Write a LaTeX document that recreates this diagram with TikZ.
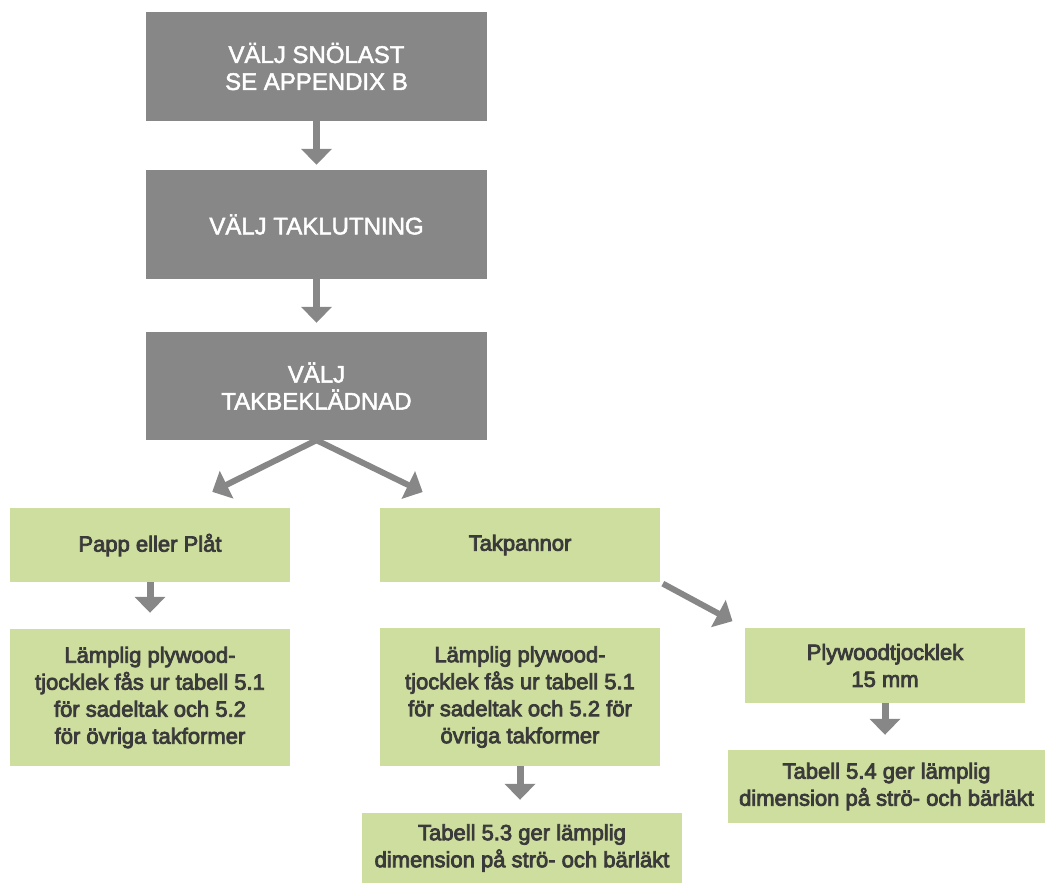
\documentclass[tikz,border=0pt]{standalone}
\usepackage{fontspec}
\setmainfont{Liberation Sans}
\newfontfamily\medfont[FakeBold=3.5]{Liberation Sans}
\newfontfamily\lightbold[FakeBold=2]{Liberation Sans}
\usepackage{tikz}
\usetikzlibrary{arrows.meta}
\definecolor{boxgray}{RGB}{135,135,135}
\definecolor{boxgreen}{RGB}{206,222,158}
\definecolor{textdark}{RGB}{58,58,58}

\begin{document}
\begin{tikzpicture}[x=1pt,y=-1pt]
    \tikzset{vertex/.style = {shape=rectangle,fill=boxgray,draw=none,text=white,minimum width=341pt,minimum height=109pt,align=center,font=\lightbold\fontsize{24}{27}\selectfont}}
    \tikzset{vertex2/.style = {shape=rectangle,fill=boxgreen,draw=none,text=textdark,minimum width=280pt,align=center,font=\medfont\fontsize{22}{27}\selectfont}}
    \tikzset{edge/.style = {-{Triangle[width=30pt,length=16pt]},draw=boxgray,line width=7pt}}
    \tikzset{edge2/.style = {edge,line width=6pt}}

    \useasboundingbox (0,0) rectangle (1046,884);

    % vertices

    \node[vertex] (s) at (316.5,66.5) {VÄLJ SNÖLAST\\SE APPENDIX B};
    \node[vertex] (t) at (316.5,224.5) {VÄLJ TAKLUTNING};
    \node[vertex,minimum height=108pt] (k) at (316.5,386) {VÄLJ\\TAKBEKLÄDNAD};

    \node[vertex2,minimum height=74pt] (p) at (150,545) {Papp eller Plåt};
\node[vertex2,minimum height=74pt] (q) at (520,545) {Takpannor};

    \node[vertex2,minimum height=137pt] (a) at (150,697.5) {Lämplig plywood-\\tjocklek fås ur tabell 5.1\\för sadeltak och 5.2\\för övriga takformer};
    \node[vertex2,minimum height=138pt] (b) at (520,697) {Lämplig plywood-\\tjocklek fås ur tabell 5.1\\för sadeltak och 5.2 för\\övriga takformer};
    \node[vertex2,minimum width=320pt,minimum height=70pt] (c) at (522,848) {Tabell 5.3 ger lämplig\\dimension på strö- och bärläkt};

   \node[vertex2,minimum height=75pt] (y) at (885,665.5) {Plywoodtjocklek\\15 mm};
   \node[vertex2,minimum width=317pt,minimum height=73pt] (z) at (886.5,786.5) {Tabell 5.4 ger lämplig\\dimension på strö- och bärläkt};

       %edges
    \draw[edge,shorten >=5pt] (s) to (t);
    \draw[edge,shorten >=9pt] (t) to (k);
    \draw[edge2,shorten >=36pt] (k.south) to ([xshift=30pt]p.north);
    \draw[edge2,shorten >=36pt] (k.south) to ([xshift=-65pt]q.north);
    \draw[edge,shorten >=16pt] (p) to (a);
    \draw[edge,shorten >=13pt] (b) to ([xshift=-2pt]c.north);
    \draw[edge2,shorten <=3pt,shorten >=14pt] (q.south east) to (y.north west);
        \draw[edge,shorten >=15pt] (y) to ([xshift=-1.5pt]z.north);
    \end{tikzpicture}
\end{document}
